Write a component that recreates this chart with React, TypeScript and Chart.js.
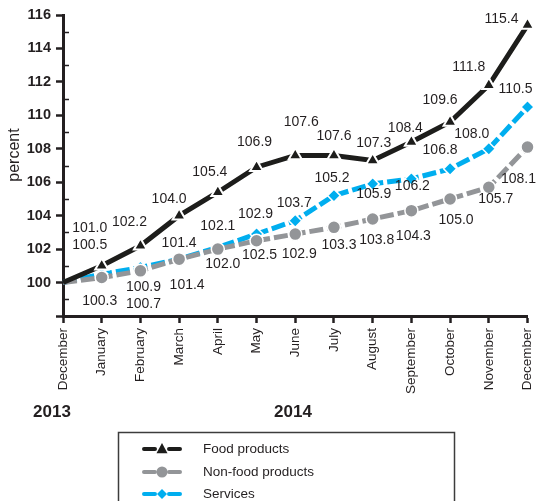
import React, { useEffect, useRef } from "react";
import { Chart, registerables } from "chart.js";

Chart.register(...registerables);

const categories = [
  "December", "January", "February", "March", "April", "May", "June",
  "July", "August", "September", "October", "November", "December",
];
const foodValues = [100, 101.0, 102.2, 104.0, 105.4, 106.9, 107.6, 107.6, 107.3, 108.4, 109.6, 111.8, 115.4];
const nonFoodValues = [100, 100.3, 100.7, 101.4, 102.0, 102.5, 102.9, 103.3, 103.8, 104.3, 105.0, 105.7, 108.1];
const servicesValues = [100, 100.5, 100.9, 101.4, 102.1, 102.9, 103.7, 105.2, 105.9, 106.2, 106.8, 108.0, 110.5];
const seriesNames = ["Food products", "Non-food products", "Services"];
const yearLabels = ["2013", "2014"];
const yAxisTitle = "percent";
const Y_MIN = 98;
const Y_MAX = 116;
const Y_STEP = 2;

// label placement (pixel offsets from each point), styling only
const foodLabelOffsets: (number[] | null)[] = [null, [-12, -38], [-11, -24], [-10, -17], [-8, -20], [-2, -25], [6, -33], [0, -19], [1, -17], [-6, -14], [-10, -22], [-20, -18], [-26, -6]];
const servicesLabelOffsets: (number[] | null)[] = [null, [-12, -29], [3, 20], [0, -16], [0, -21], [-1, -20], [-1, -18], [-2, -17], [1, 10], [1, 7], [-10, -19], [-17, -15], [-12, -18]];
const nonFoodLabelOffsets: (number[] | null)[] = [null, [-2, 24], [3, 33], [8, 26], [5, 15], [3, 14], [4, 20], [5, 18], [4, 21], [2, 25], [6, 21], [7, 12], [-9, 32]];

const FONT = "'Liberation Sans', Arial, Helvetica, sans-serif";
const INK = "#231f20";
const FOOD = "#1d1d1b";
const GRAY = "#939598";
const CYAN = "#00aeef";

function drawMarker(ctx: CanvasRenderingContext2D, style: string, x: number, y: number, r: number, color: string) {
  ctx.save();
  ctx.fillStyle = color;
  ctx.beginPath();
  if (style === "triangle") {
    ctx.moveTo(x, y - r * 1.1);
    ctx.lineTo(x + r, y + r * 0.75);
    ctx.lineTo(x - r, y + r * 0.75);
    ctx.closePath();
  } else if (style === "circle") {
    ctx.arc(x, y, r, 0, Math.PI * 2);
  } else {
    ctx.moveTo(x, y - r);
    ctx.lineTo(x + r, y);
    ctx.lineTo(x, y + r);
    ctx.lineTo(x - r, y);
    ctx.closePath();
  }
  ctx.fill();
  ctx.restore();
}

const customPlugin = {
  id: "customDecor",
  afterDatasetsDraw(chart: any) {
    const ctx: CanvasRenderingContext2D = chart.ctx;
    const offsetsByDataset = [foodLabelOffsets, nonFoodLabelOffsets, servicesLabelOffsets];
    ctx.save();
    ctx.font = `14px ${FONT}`;
    ctx.fillStyle = INK;
    ctx.textAlign = "center";
    ctx.textBaseline = "middle";
    chart.data.datasets.forEach((ds: any, di: number) => {
      const meta = chart.getDatasetMeta(di);
      const offs = offsetsByDataset[di];
      meta.data.forEach((pt: any, i: number) => {
        const o = offs[i];
        if (!o) return;
        ctx.fillText((ds.data[i] as number).toFixed(1), pt.x + o[0], pt.y + o[1]);
      });
    });
    ctx.restore();
  },
  afterDraw(chart: any) {
    const ctx: CanvasRenderingContext2D = chart.ctx;
    const ys = chart.scales.y;
    const left = chart.chartArea.left;
    ctx.save();
    ctx.strokeStyle = INK;
    ctx.lineWidth = 1.5;
    for (let v = Y_MIN + 1; v < Y_MAX; v += 2) {
      const y = Math.round(ys.getPixelForValue(v)) + 0.5;
      ctx.beginPath();
      ctx.moveTo(left, y);
      ctx.lineTo(left + 6, y);
      ctx.stroke();
    }
    ctx.save();
    ctx.translate(15, 155);
    ctx.rotate(-Math.PI / 2);
    ctx.font = `16px ${FONT}`;
    ctx.fillStyle = INK;
    ctx.textAlign = "center";
    ctx.textBaseline = "middle";
    ctx.fillText(yAxisTitle, 0, 0);
    ctx.restore();
    ctx.font = `bold 17px ${FONT}`;
    ctx.fillStyle = INK;
    ctx.textAlign = "center";
    ctx.textBaseline = "middle";
    ctx.fillText(yearLabels[0], 52, 412);
    ctx.fillText(yearLabels[1], 293, 412);
    ctx.strokeStyle = "#3c3c3c";
    ctx.lineWidth = 1.5;
    ctx.strokeRect(118.5, 432.5, 336, 90);
    const rows = [
      { name: seriesNames[0], color: FOOD, style: "triangle", y: 449, r: 5.5 },
      { name: seriesNames[1], color: GRAY, style: "circle", y: 472, r: 5.5 },
      { name: seriesNames[2], color: CYAN, style: "diamond", y: 494, r: 5 },
    ];
    rows.forEach((row) => {
      ctx.strokeStyle = row.color;
      ctx.lineWidth = 4;
      ctx.lineCap = "round";
      ctx.beginPath();
      ctx.moveTo(144, row.y);
      ctx.lineTo(155, row.y);
      ctx.moveTo(169, row.y);
      ctx.lineTo(180, row.y);
      ctx.stroke();
      drawMarker(ctx, row.style, 162, row.y, row.r, row.color);
      ctx.font = `13.5px ${FONT}`;
      ctx.fillStyle = INK;
      ctx.textAlign = "left";
      ctx.textBaseline = "middle";
      ctx.fillText(row.name, 203, row.y);
    });
    ctx.restore();
  },
};

export default function App() {
  const canvasRef = useRef<HTMLCanvasElement | null>(null);

  useEffect(() => {
    document.body.style.margin = "0";
    const canvas = canvasRef.current;
    if (!canvas) return;
    const pointRadius = (r: number) => (c: any) => (c.dataIndex === 0 ? 0 : r);
    const chart = new Chart(canvas, {
      type: "line",
      data: {
        labels: categories,
        datasets: [
          {
            label: seriesNames[0],
            data: foodValues,
            borderColor: FOOD,
            backgroundColor: FOOD,
            borderWidth: 5,
            pointStyle: "triangle",
            pointRadius: pointRadius(7.5),
            pointBackgroundColor: FOOD,
            pointBorderColor: "#fff",
            pointBorderWidth: 2,
            tension: 0,
          },
          {
            label: seriesNames[1],
            data: nonFoodValues,
            borderColor: GRAY,
            backgroundColor: GRAY,
            borderWidth: 5,
            borderDash: [14, 4],
            pointStyle: "circle",
            pointRadius: pointRadius(6.5),
            pointBackgroundColor: GRAY,
            pointBorderColor: "#fff",
            pointBorderWidth: 1.5,
            tension: 0,
          },
          {
            label: seriesNames[2],
            data: servicesValues,
            borderColor: CYAN,
            backgroundColor: CYAN,
            borderWidth: 5,
            borderDash: [14, 4],
            pointStyle: "rectRot",
            pointRadius: pointRadius(6.5),
            pointBackgroundColor: CYAN,
            pointBorderColor: "#fff",
            pointBorderWidth: 1.5,
            tension: 0,
          },
        ],
      },
      options: {
        animation: false,
        responsive: false,
        devicePixelRatio: 1,
        layout: { padding: { top: 15, right: 8, left: 0, bottom: 0 } },
        plugins: {
          legend: { display: false },
          tooltip: { enabled: false },
          title: { display: false },
        },
        scales: {
          x: {
            type: "category",
            offset: false,
            grid: {
              drawOnChartArea: false,
              drawTicks: true,
              tickLength: 7,
              tickWidth: 2.5,
              color: INK,
            },
            border: { display: true, color: INK, width: 3 },
            ticks: {
              autoSkip: false,
              minRotation: 90,
              maxRotation: 90,
              padding: 5,
              color: INK,
              font: { family: FONT, size: 13.5 },
            },
            afterFit: (scale: any) => {
              scale.height = 185;
              scale.paddingLeft = 0;
              scale.paddingRight = 0;
            },
          },
          y: {
            min: Y_MIN,
            max: Y_MAX,
            grid: {
              drawOnChartArea: false,
              drawTicks: true,
              tickLength: 7,
              tickWidth: 2.5,
              color: INK,
            },
            border: { display: true, color: INK, width: 3 },
            ticks: {
              stepSize: Y_STEP,
              padding: 5,
              color: INK,
              font: { family: FONT, size: 14.5, weight: "bold" },
              callback: (v: any) => (Number(v) === Y_MIN ? "" : String(v)),
            },
            afterFit: (scale: any) => {
              scale.width = 63;
              scale.paddingTop = 0;
              scale.paddingBottom = 0;
            },
          },
        },
      },
      plugins: [customPlugin],
    } as any);
    return () => chart.destroy();
  }, []);

  return (
    <div style={{ width: 537, height: 501, background: "#fff" }}>
      <canvas ref={canvasRef} width={537} height={501} style={{ display: "block" }} />
    </div>
  );
}
